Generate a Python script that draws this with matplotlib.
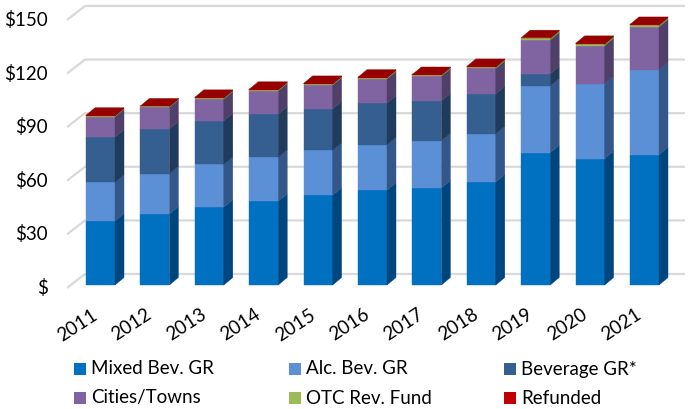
import matplotlib.pyplot as plt
from matplotlib.patches import Polygon, Rectangle

# ---- data (millions of $) ----
years = ["2011", "2012", "2013", "2014", "2015", "2016",
         "2017", "2018", "2019", "2020", "2021"]
mixed_bev_gr = [35.8, 39.7, 43.5, 46.8, 50.2, 53.0, 54.3, 57.6, 74.0, 70.7, 72.9]
alc_bev_gr = [21.7, 22.6, 24.0, 24.7, 25.2, 25.5, 26.5, 27.1, 37.4, 42.0, 47.4]
beverage_gr = [25.2, 25.0, 24.4, 24.0, 23.1, 23.2, 22.2, 22.2, 6.7, 0.0, 0.0]
cities_towns = [11.5, 12.1, 12.2, 13.1, 13.4, 13.6, 13.8, 14.3, 19.0, 21.2, 24.1]
otc_rev_fund = [0.5, 0.5, 0.6, 0.6, 0.6, 0.7, 0.7, 0.8, 1.0, 1.0, 1.1]
refunded = [0.3, 0.3, 0.3, 0.3, 0.3, 0.3, 0.3, 0.3, 0.3, 0.3, 0.3]

series_names = ["Mixed Bev. GR", "Alc. Bev. GR", "Beverage GR*",
                "Cities/Towns", "OTC Rev. Fund", "Refunded"]
series_values = [mixed_bev_gr, alc_bev_gr, beverage_gr,
                 cities_towns, otc_rev_fund, refunded]
y_ticks = [0, 30, 60, 90, 120, 150]

# face colours: front, side, top
front_colors = ["#0070C0", "#5B8FD6", "#355F91", "#8064A2", "#9BBB59", "#C00000"]
side_colors = ["#00467E", "#34578A", "#213B5C", "#503F68", "#6A8A38", "#800000"]
top_colors = ["#2A8AD0", "#7AA6E0", "#4A75A8", "#9580B3", "#9BBB59", "#950000"]

W, H = 689, 409
X0 = 100.5      # pixel x of first bar centre
STEP = 54.4     # pixel spacing between bars
BASE = 285      # pixel y (from top) of $0 on bar front
SCALE = 1.787   # pixels per $1

FONT = "Lato"
FS = 13.5
GRID = "#D9D9D9"

fig = plt.figure(figsize=(W / 100, H / 100), dpi=100)
ax = fig.add_axes([0, 0, 1, 1])
ax.axis("off")
ax.set_xlim(-X0 / STEP, (W - X0) / STEP)
ax.set_ylim(-(H - BASE) / SCALE, BASE / SCALE)


def px_x(p):
    return p / STEP


def px_y(p):
    return p / SCALE


def x_at(p):
    return (p - X0) / STEP


# gridlines with a slanted left wall
for v in y_ticks:
    ax.plot([x_at(67), x_at(85), x_at(685)],
            [v - px_y(3), v + px_y(11), v + px_y(11)],
            color=GRID, lw=1.6, solid_capstyle="butt", zorder=1)
    label = "\\$" + (str(v) if v else "")
    ax.text(x_at(48), v - px_y(3), label, ha="right", va="center",
            fontsize=FS, family=FONT, color="#000000")

# 3D-looking stacked columns
bw = px_x(29)
dx = px_x(9)
dy = px_y(7.5)
for i in range(len(years)):
    bottom = 0
    last = None
    for k, vals in enumerate(series_values):
        h = vals[i]
        if h <= 0:
            continue
        left, right = i - bw / 2, i + bw / 2
        ax.add_patch(Rectangle((left, bottom), bw, h, fc=front_colors[k],
                               ec=front_colors[k], lw=0.3, zorder=3))
        ax.add_patch(Polygon([(right, bottom), (right + dx, bottom + dy),
                              (right + dx, bottom + h + dy), (right, bottom + h)],
                             closed=True, fc=side_colors[k], ec=side_colors[k],
                             lw=0.3, zorder=3))
        bottom += h
        last = k
    left, right = i - bw / 2, i + bw / 2
    ax.add_patch(Polygon([(left, bottom), (right, bottom), (right + dx, bottom + dy),
                          (left + dx, bottom + dy)], closed=True,
                         fc=top_colors[last], ec=top_colors[last], lw=0.3, zorder=3))
    ax.text(i - px_x(23), -px_y(325 - BASE), years[i], rotation=33,
            ha="center", va="center", fontsize=FS, family=FONT)

# legend, laid out row by row like the original
leg_x = [74, 289, 504]
leg_y = [369, 398]
for k, name in enumerate(series_names):
    col, row = k % 3, k // 3
    xm = x_at(leg_x[col])
    ym = -px_y(leg_y[row] - BASE)
    ax.add_patch(Rectangle((xm, ym - px_y(6)), px_x(12), px_y(12),
                           fc=front_colors[k], lw=0))
    ax.text(x_at(leg_x[col] + 17), ym, name, ha="left", va="center",
            fontsize=FS, family=FONT)

plt.savefig("out.png", dpi=100)
